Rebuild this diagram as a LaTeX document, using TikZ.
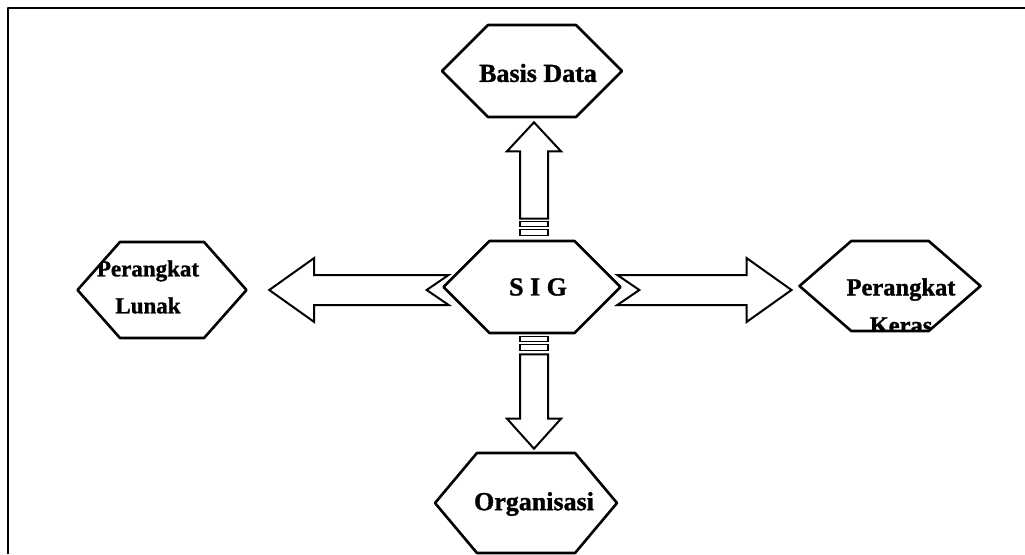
\documentclass[tikz,border=0pt]{standalone}
\usepackage{fontspec}
\setmainfont{Liberation Serif}[BoldFeatures={FakeBold=1.2}]
\usetikzlibrary{shapes.symbols,calc}
\begin{document}
\begin{tikzpicture}[x=1pt,y=-1pt, line join=round, line cap=round,
	hexa/.style={signal, signal to=west and east, signal pointer angle=90, draw, line width=2.6pt, fill=white, inner sep=0pt},
	hextext/.style={align=center, font=\bfseries\fontsize{26}{30}\selectfont},
	cliptext/.style n args={4}{path picture={\node[hextext,#3] at ([shift={(#1,#2)}]path picture bounding box.center) {#4};}},
	barrow/.style={draw, line width=2pt, line join=miter, fill=white}]
	\useasboundingbox (0,0) rectangle (1025,554);
	\draw[line width=2.6pt, line cap=butt] (8,554) |- (1025,8);
	% hexagons
	\node[hexa, minimum width=180pt, minimum height=92pt, cliptext={6}{2}{}{Basis Data}] (bd) at (532,71) {};
	\node[hexa, minimum width=177pt, minimum height=92pt, cliptext={6}{0}{}{S I G}] (sig) at (532,287) {};
	\node[hexa, minimum width=169pt, minimum height=96pt, signal pointer angle=97,
		cliptext={-14}{-3}{font=\bfseries\fontsize{23}{37}\selectfont}{Perangkat\\Lunak}] (pl) at (162,290) {};
	\node[hexa, minimum width=181pt, minimum height=90pt, signal pointer angle=82,
		cliptext={11}{20}{font=\bfseries\fontsize{24.5}{38}\selectfont}{Perangkat\\Keras}] (pk) at (890,286) {};
	\node[hexa, minimum width=182pt, minimum height=100pt, signal pointer angle=100, cliptext={8}{1}{}{Organisasi}] (org) at (526,503) {};
	% up
	\draw[barrow] ($(bd.south)+(2,4)$) -- ($(bd.south)+(29,33)$) -- ($(bd.south)+(16,33)$) -- ($(sig.north)+(16,-21)$) -- ($(sig.north)+(-12,-21)$) -- ($(bd.south)+(-12,33)$) -- ($(bd.south)+(-25,33)$) -- cycle;
	\draw[barrow, line width=1.4pt] ($(sig.north)+(-12,-18)$) rectangle ($(sig.north)+(16,-13)$);
	\draw[barrow, line width=1.4pt] ($(sig.north)+(-12,-10)$) rectangle ($(sig.north)+(16,-4)$);
	% down
	\draw[barrow, line width=1.4pt] ($(sig.south)+(-12,2)$) rectangle ($(sig.south)+(16,7)$);
	\draw[barrow, line width=1.4pt] ($(sig.south)+(-12,10)$) rectangle ($(sig.south)+(16,16)$);
	\draw[barrow] ($(sig.south)+(-12,20)$) -- ($(sig.south)+(16,20)$) -- ($(org.north)+(22,-33)$) -- ($(org.north)+(35,-33)$) -- ($(org.north)+(8,-3)$) -- ($(org.north)+(-19,-33)$) -- ($(org.north)+(-6,-33)$) -- cycle;
	% left
	\draw[barrow] ($(sig.west)+(7,-12)$) -- ($(sig.west)+(-15,3)$) -- ($(sig.west)+(7,18)$) -- ($(pl.east)+(66,15)$) -- ($(pl.east)+(66,32)$) -- ($(pl.east)+(21,0)$) -- ($(pl.east)+(66,-32)$) -- ($(pl.east)+(66,-15)$) -- cycle;
	% right
	\draw[barrow] ($(sig.east)+(-5,-12)$) -- ($(sig.east)+(17,3)$) -- ($(sig.east)+(-5,18)$) -- ($(pk.west)+(-51,19)$) -- ($(pk.west)+(-51,36)$) -- ($(pk.west)+(-6,4)$) -- ($(pk.west)+(-51,-28)$) -- ($(pk.west)+(-51,-11)$) -- cycle;
\end{tikzpicture}
\end{document}
